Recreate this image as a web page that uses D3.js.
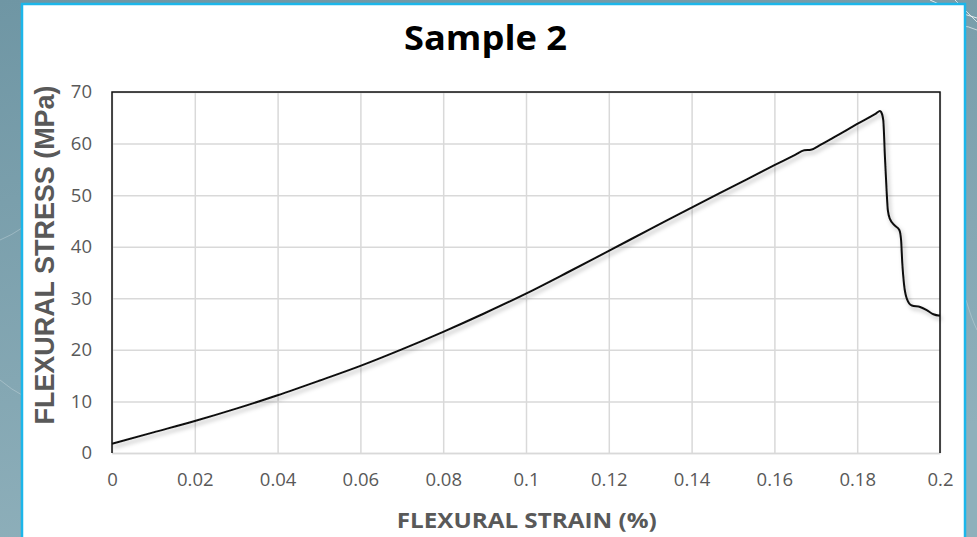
<!DOCTYPE html>
<html>
<head>
<meta charset="utf-8">
<script src="https://cdn.jsdelivr.net/npm/d3@7"></script>
<style>
  html, body { margin: 0; padding: 0; background: #7c9fac; }
  svg { display: block; }
</style>
</head>
<body>
<div id="chart"></div>
<script>
// Flexural test curve
const strain = [0, 0.01, 0.02, 0.03, 0.04, 0.05, 0.06, 0.07, 0.08, 0.09, 0.10, 0.11, 0.12, 0.13, 0.14, 0.15,
  0.16, 0.165, 0.1672, 0.1688, 0.171, 0.175, 0.18, 0.1845, 0.1855, 0.1858, 0.1863, 0.1867, 0.1871, 0.1874,
  0.1879, 0.1891, 0.1902, 0.1906, 0.1909, 0.1913, 0.192, 0.1932, 0.1952, 0.1968, 0.1984, 0.2];
const stress = [1.8, 4.0, 6.2, 8.6, 11.2, 14.0, 16.9, 20.1, 23.5, 27.1, 30.9, 35.0, 39.2, 43.4, 47.6, 51.7,
  55.8, 57.8, 58.7, 58.8, 59.7, 61.5, 63.8, 65.8, 66.3, 66.1, 64.5, 57.4, 50.9, 47.1,
  45.4, 44.1, 43.2, 41.3, 36.7, 32.8, 29.9, 28.6, 28.3, 27.7, 26.9, 26.6];

const xTicks = [0, 0.02, 0.04, 0.06, 0.08, 0.1, 0.12, 0.14, 0.16, 0.18, 0.2];
const xTickLabels = ['0', '0.02', '0.04', '0.06', '0.08', '0.1', '0.12', '0.14', '0.16', '0.18', '0.2'];
const yTicks = [0, 10, 20, 30, 40, 50, 60, 70];
const yTickLabels = ['0', '10', '20', '30', '40', '50', '60', '70'];

const title = 'Sample 2';
const xTitle = 'FLEXURAL STRAIN (%)';
const yTitle = 'FLEXURAL STRESS (MPa)';

const width = 977, height = 537;
const plot = {left: 112, right: 940, top: 92, bottom: 453};
const grid_color = '#d9d9d9';
const text_color = '#595959';

const svg = d3.select('#chart').append('svg')
  .attr('width', width)
  .attr('height', height);

const defs = svg.append('defs');
const bg = defs.append('linearGradient').attr('id', 'bg')
  .attr('x1', 0).attr('y1', 0).attr('x2', 0.3).attr('y2', 1);
bg.append('stop').attr('offset', 0).attr('stop-color', '#6f96a4');
bg.append('stop').attr('offset', 1).attr('stop-color', '#8fb0bb');

const shadow = defs.append('filter').attr('id', 'shadow')
  .attr('x', '-5%').attr('y', '-5%').attr('width', '110%').attr('height', '115%');
shadow.append('feDropShadow')
  .attr('dx', 2).attr('dy', 3).attr('stdDeviation', 2)
  .attr('flood-color', '#000').attr('flood-opacity', 0.3);

// backdrop
svg.append('rect').attr('width', width).attr('height', height).attr('fill', 'url(#bg)');

// faint decorative strokes of the slide background
const deco = svg.append('g').attr('fill', 'none').attr('stroke', '#fff').attr('stroke-width', 1);
deco.append('path').attr('d', 'M930,0 Q955,12 977,18').attr('opacity', 0.8);
deco.append('path').attr('d', 'M955,0 Q965,10 977,22').attr('opacity', 0.7);
deco.append('path').attr('d', 'M940,28 Q960,22 977,30').attr('opacity', 0.6);
deco.append('path').attr('d', 'M0,240 Q12,235 22,228').attr('opacity', 0.25);
deco.append('path').attr('d', 'M0,380 Q12,390 22,395').attr('opacity', 0.25);
deco.append('path').attr('d', 'M966,300 Q972,320 977,330').attr('opacity', 0.25);

// white card
svg.append('rect')
  .attr('x', 22).attr('y', 4)
  .attr('width', 943).attr('height', 560)
  .attr('fill', '#fff')
  .attr('stroke', '#1cb6ea')
  .attr('stroke-width', 2.5);

const x_scale = d3.scaleLinear().domain([0, 0.2]).range([plot.left, plot.right]);
const y_scale = d3.scaleLinear().domain([0, 70]).range([plot.bottom, plot.top]);

const font = "'Open Sans', 'Liberation Sans', sans-serif";

// x axis + vertical grid
const xAxis = d3.axisBottom(x_scale)
  .tickValues(xTicks)
  .tickFormat((d, i) => xTickLabels[i])
  .tickSizeInner(-(plot.bottom - plot.top))
  .tickSizeOuter(0)
  .tickPadding(20);

const gx = svg.append('g')
  .attr('transform', `translate(0,${plot.bottom})`)
  .call(xAxis);
gx.select('.domain').attr('stroke', grid_color).attr('stroke-width', 1.5);
gx.selectAll('line').attr('stroke', grid_color).attr('stroke-width', 1.5);
gx.selectAll('text')
  .attr('fill', text_color)
  .style('font-family', font)
  .style('font-size', '18.5px');

// y axis + horizontal grid
const yAxis = d3.axisLeft(y_scale)
  .tickValues(yTicks)
  .tickFormat((d, i) => yTickLabels[i])
  .tickSizeInner(-(plot.right - plot.left))
  .tickSizeOuter(0)
  .tickPadding(20);

const gy = svg.append('g')
  .attr('transform', `translate(${plot.left},0)`)
  .call(yAxis);
gy.select('.domain').remove();
gy.selectAll('line').attr('stroke', grid_color).attr('stroke-width', 1.5);
gy.selectAll('text')
  .attr('fill', text_color)
  .style('font-family', font)
  .style('font-size', '18.5px');

// plot frame: left, top, right in black
svg.append('path')
  .attr('d', `M${plot.left},${plot.bottom}V${plot.top}H${plot.right}V${plot.bottom}`)
  .attr('fill', 'none')
  .attr('stroke', '#111')
  .attr('stroke-width', 1.5);

// curve
const points = strain.map((s, i) => ({s, v: stress[i]}));
const line = d3.line()
  .x(d => x_scale(d.s))
  .y(d => y_scale(d.v))
  .curve(d3.curveMonotoneX);

svg.append('path')
  .datum(points)
  .attr('d', line)
  .attr('fill', 'none')
  .attr('stroke', '#111')
  .attr('stroke-width', 2)
  .attr('stroke-linejoin', 'round')
  .attr('filter', 'url(#shadow)');

// titles
svg.append('text')
  .attr('x', 485.5).attr('y', 49.5)
  .attr('text-anchor', 'middle')
  .attr('textLength', 163)
  .attr('lengthAdjust', 'spacingAndGlyphs')
  .style('font-family', font)
  .style('font-weight', 'bold')
  .style('font-size', '34px')
  .attr('fill', '#000')
  .text(title);

svg.append('text')
  .attr('x', 526.7).attr('y', 528.3)
  .attr('text-anchor', 'middle')
  .attr('textLength', 260)
  .attr('lengthAdjust', 'spacingAndGlyphs')
  .style('font-family', font)
  .style('font-weight', 'bold')
  .style('font-size', '21px')
  .attr('fill', text_color)
  .text(xTitle);

svg.append('text')
  .attr('transform', 'translate(53.5,255)rotate(-90)')
  .attr('text-anchor', 'middle')
  .attr('textLength', 339)
  .attr('lengthAdjust', 'spacingAndGlyphs')
  .style('font-family', "'Liberation Sans', Arial, sans-serif")
  .style('font-weight', 'bold')
  .style('font-size', '27px')
  .attr('fill', text_color)
  .text(yTitle);
</script>
</body>
</html>
